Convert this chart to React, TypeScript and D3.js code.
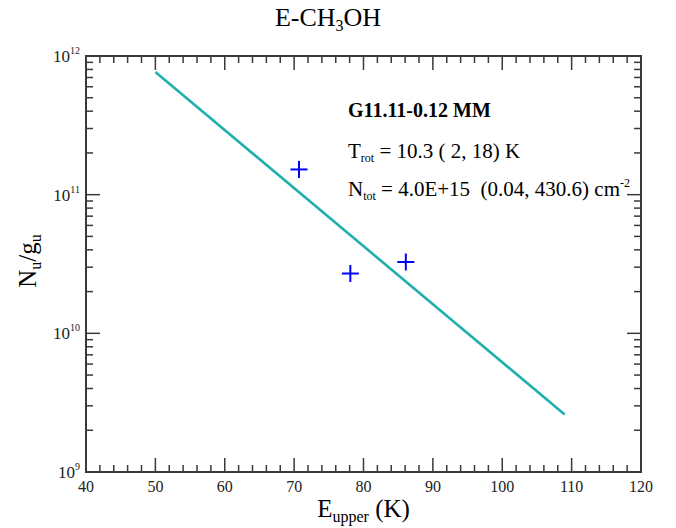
import * as d3 from 'd3';

// observed transitions
const eUpper = [70.7, 78.1, 86.1];
const nuGu = [1.52e11, 2.7e10, 3.27e10];

// rotation-diagram fit
const fitE = [50, 109];
const fitN = [7.66e11, 2.6e9];

const xTicks = [40, 50, 60, 70, 80, 90, 100, 110, 120];
const yExps = [9, 10, 11, 12];

const W = 676;
const H = 528;
const margin = { top: 56, right: 35, bottom: 56, left: 86 };
const FONT = '"Liberation Serif", "DejaVu Serif", serif';

export default function App() {
  const x = d3.scaleLinear().domain([40, 120]).range([margin.left, W - margin.right]);
  const y = d3.scaleLog().domain([1e9, 1e12]).range([H - margin.bottom, margin.top]);

  const x0 = x.range()[0];
  const x1 = x.range()[1];
  const y0 = y.range()[0];
  const y1 = y.range()[1];

  const minorX = d3.range(40, 121, 2).filter(v => v % 10 !== 0);
  const minorY: number[] = [];
  yExps.slice(0, -1).forEach(e => {
    for (let k = 2; k <= 9; k++) minorY.push(k * Math.pow(10, e));
  });

  const line = d3.line<number>()
    .x((_, i) => x(fitE[i]))
    .y((_, i) => y(fitN[i]));

  const axisColor = '#3a3a3a';
  const major = 14;
  const minor = 7;
  const cross = 8.5;

  return (
    <svg width={W} height={H} style={{ position: 'absolute', left: 0, top: 0, background: '#fff', fontFamily: FONT }}>
      {/* title */}
      <text x={328} y={26} fontSize={26} textAnchor="middle">
        E-CH<tspan fontSize={16} dy={5}>3</tspan><tspan dy={-5}>OH</tspan>
      </text>

      {/* fit line */}
      <path d={line(fitE) || ''} fill="none" stroke="#1fb0ae" strokeWidth={2.6} />

      {/* data points */}
      {eUpper.map((e, i) => (
        <g key={i} stroke="#0000ff" strokeWidth={2}>
          <line x1={x(e) - cross} x2={x(e) + cross} y1={y(nuGu[i])} y2={y(nuGu[i])} />
          <line x1={x(e)} x2={x(e)} y1={y(nuGu[i]) - cross} y2={y(nuGu[i]) + cross} />
        </g>
      ))}

      {/* ticks */}
      <g stroke={axisColor} strokeWidth={1.5}>
        {xTicks.map(t => (
          <g key={'xm' + t}>
            <line x1={x(t)} x2={x(t)} y1={y0} y2={y0 - major} />
            <line x1={x(t)} x2={x(t)} y1={y1} y2={y1 + major} />
          </g>
        ))}
        {minorX.map(t => (
          <g key={'xn' + t}>
            <line x1={x(t)} x2={x(t)} y1={y0} y2={y0 - minor} />
            <line x1={x(t)} x2={x(t)} y1={y1} y2={y1 + minor} />
          </g>
        ))}
        {yExps.map(e => (
          <g key={'ym' + e}>
            <line x1={x0} x2={x0 + major} y1={y(Math.pow(10, e))} y2={y(Math.pow(10, e))} />
            <line x1={x1} x2={x1 - major} y1={y(Math.pow(10, e))} y2={y(Math.pow(10, e))} />
          </g>
        ))}
        {minorY.map(v => (
          <g key={'yn' + v}>
            <line x1={x0} x2={x0 + minor} y1={y(v)} y2={y(v)} />
            <line x1={x1} x2={x1 - minor} y1={y(v)} y2={y(v)} />
          </g>
        ))}
      </g>

      {/* frame */}
      <rect x={x0} y={y1} width={x1 - x0} height={y0 - y1} fill="none" stroke={axisColor} strokeWidth={2} />

      {/* tick labels */}
      {xTicks.map(t => (
        <text key={'xl' + t} x={x(t)} y={y0 + 20} fontSize={16} textAnchor="middle" fill="#222">{t}</text>
      ))}
      {yExps.map(e => (
        <text key={'yl' + e} x={80} y={y(Math.pow(10, e)) + 6} fontSize={17} textAnchor="end" fill="#222">
          10<tspan fontSize={10} dy={-8}>{e}</tspan>
        </text>
      ))}

      {/* axis titles */}
      <text x={(x0 + x1) / 2} y={517} fontSize={25} textAnchor="middle">
        E<tspan fontSize={16} dy={5}>upper</tspan><tspan dy={-5}> (K)</tspan>
      </text>
      <text transform={`translate(36,${(y0 + y1) / 2 - 3}) rotate(-90)`} fontSize={25} textAnchor="middle">
        N<tspan fontSize={16} dy={5}>u</tspan><tspan dy={-5}>/g</tspan><tspan fontSize={16} dy={5}>u</tspan>
      </text>

      {/* annotations */}
      <text x={348} y={117} fontSize={20} fontWeight="bold">G11.11-0.12 MM</text>
      <text x={348} y={158} fontSize={21}>
        T<tspan fontSize={12} dy={4}>rot</tspan><tspan dy={-4}> = 10.3 ( 2, 18) K</tspan>
      </text>
      <text x={348} y={196} fontSize={21}>
        N<tspan fontSize={12} dy={4}>tot</tspan><tspan dy={-4}>{' = 4.0E+15\u00a0\u00a0(0.04, 430.6) cm'}</tspan>
        <tspan fontSize={12} dy={-9}>-2</tspan>
      </text>
    </svg>
  );
}
